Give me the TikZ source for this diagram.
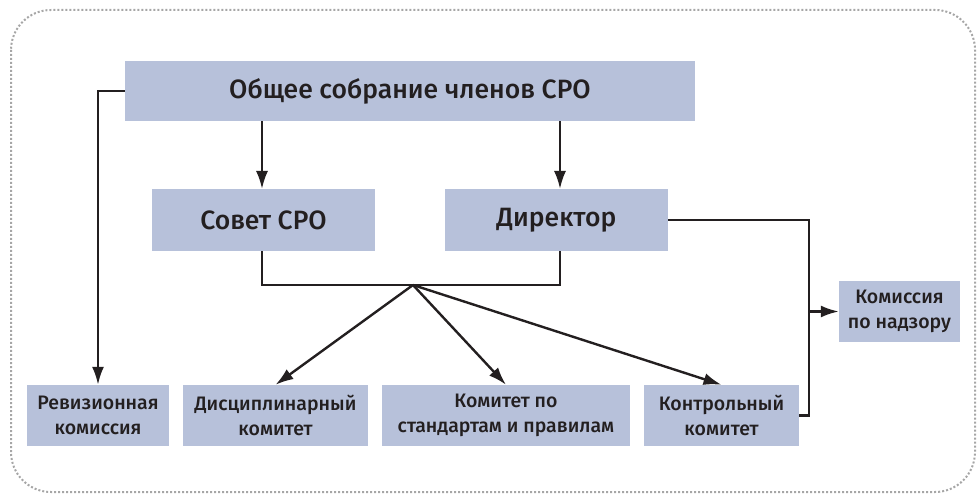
\documentclass[tikz,border=0pt]{standalone}
\usepackage{fontspec}
\setmainfont{Fira Sans}[BoldFont=* Medium]
\usetikzlibrary{arrows.meta}
\definecolor{boxblue}{HTML}{B7C1DA}
\definecolor{ink}{HTML}{231F20}
\begin{document}
\begin{tikzpicture}[x=1pt, y=-1pt,
  box/.style={fill=boxblue, text=ink, inner sep=0pt, align=center, font=\bfseries},
  line/.style={draw=ink, line width=2.4pt},
  arr/.style={line, -{Latex[length=18pt, width=12pt]}}]
\useasboundingbox (0, 0) rectangle (977, 494);
\draw[gray!70, line width=2pt, dotted, rounded corners=40pt] (11, 10) rectangle (975, 492);
% boxes
\node[box, minimum width=570pt, minimum height=60pt, font=\bfseries\fontsize{26.5}{30}\selectfont] (sobr) at (410, 91) {Общее собрание членов СРО};
\node[box, minimum width=223pt, minimum height=62pt, font=\bfseries\fontsize{26.5}{30}\selectfont] (sovet) at (263.5, 220) {Совет СРО};
\node[box, minimum width=223pt, minimum height=62pt, font=\bfseries\fontsize{26.5}{30}\selectfont] (dir) at (556.5, 220) {Директор};
\node[box, minimum width=121pt, minimum height=61pt, font=\bfseries\fontsize{19.5}{25}\selectfont] (nadz) at (899.5, 311.5) {Комиссия\\по надзору};
\node[box, minimum width=142pt, minimum height=61pt, font=\bfseries\fontsize{19.5}{25}\selectfont] (rev) at (98, 415.5) {Ревизионная\\комиссия};
\node[box, minimum width=185pt, minimum height=61pt, font=\bfseries\fontsize{19.5}{25}\selectfont] (disc) at (275.5, 415.5) {Дисциплинарный\\комитет};
\node[box, minimum width=248pt, minimum height=61pt, font=\bfseries\fontsize{19.5}{25}\selectfont] (stand) at (506, 415.5) {Комитет по\\стандартам и правилам};
\node[box, minimum width=155pt, minimum height=61pt, font=\bfseries\fontsize{19.5}{25}\selectfont] (kontr) at (721.5, 415.5) {Контрольный\\комитет};
% connectors
\coordinate (fan) at (413, 285);
\coordinate (bus) at (809, 311.5);
\draw[arr] (sobr.west) -| (rev.north);
\draw[arr] (sobr.south -| 262, 0) -- (262, 189);
\draw[arr] (sobr.south -| 560, 0) -- (560, 189);
\draw[line] (sovet.south -| 262, 0) |- (fan) -| (dir.south -| 560, 0);
\draw[arr] (fan) -- (disc.north);
\draw[arr] (fan) -- (stand.north);
\draw[arr] (fan) -- (kontr.north);
\draw[line] (dir.east) -| (bus) |- (kontr.east);
\draw[arr] (bus) -- (nadz.west);
\end{tikzpicture}
\end{document}
